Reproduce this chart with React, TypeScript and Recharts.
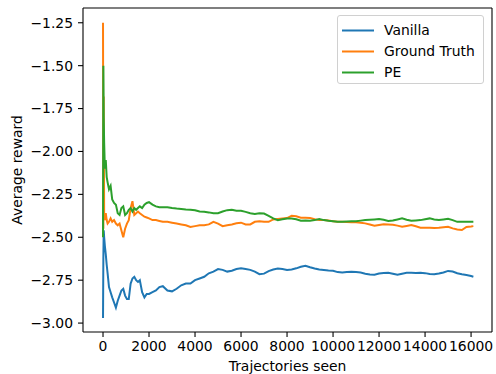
import React from "react";
import { LineChart, Line, XAxis, YAxis, Legend, ReferenceLine } from "recharts";

const trajectoriesSeen = [
  0, 15, 30, 50, 80, 120, 160, 200,
  260, 330, 400, 480, 560, 640, 720, 800,
  880, 960, 1040, 1120, 1200, 1280, 1360, 1440,
  1520, 1600, 1700, 1800, 1900, 2000,
  2150, 2300, 2450, 2600,
  2800, 3000, 3200, 3400, 3600, 3800, 4000, 4200, 4400, 4600,
  4800, 5000, 5200, 5400, 5600, 5800, 6000,
  6200, 6400, 6600, 6800, 7000, 7200, 7400, 7600, 7800, 8000,
  8200, 8400, 8600, 8800, 9000, 9200, 9400, 9600, 9800, 10000,
  10200, 10400, 10600, 10800, 11000, 11200, 11400, 11600, 11800, 12000,
  12200, 12400, 12600, 12800, 13000, 13200, 13400, 13600, 13800, 14000,
  14200, 14400, 14600, 14800, 15000, 15200, 15400, 15600, 15800, 16000, 16100,
];

const vanilla = [
  -2.97, -2.62, -2.46, -2.5, -2.55, -2.6, -2.66, -2.71,
  -2.79, -2.82, -2.85, -2.88, -2.91, -2.87, -2.84, -2.81,
  -2.8, -2.84, -2.86, -2.86, -2.77, -2.74, -2.73, -2.75,
  -2.76, -2.75, -2.82, -2.85, -2.83, -2.83,
  -2.82, -2.81, -2.79, -2.785,
  -2.81, -2.815, -2.8, -2.78, -2.77, -2.77, -2.75, -2.74, -2.73, -2.71,
  -2.7, -2.685, -2.69, -2.7, -2.695, -2.685, -2.681,
  -2.685, -2.69, -2.7, -2.715, -2.712, -2.697, -2.688, -2.682, -2.685, -2.69,
  -2.688, -2.681, -2.672, -2.666, -2.675, -2.682, -2.688, -2.691, -2.694, -2.695,
  -2.703, -2.705, -2.703, -2.701, -2.703, -2.705, -2.712, -2.717, -2.718, -2.711,
  -2.708, -2.707, -2.712, -2.718, -2.712, -2.707, -2.707, -2.708, -2.707, -2.709,
  -2.714, -2.716, -2.711, -2.705, -2.696, -2.7, -2.71, -2.716, -2.72, -2.726, -2.73,
];

const groundTruth = [
  -1.25, -2.45, -1.68, -2.38, -2.4, -2.36, -2.4, -2.42,
  -2.41, -2.39, -2.41, -2.4, -2.42, -2.43, -2.42, -2.46,
  -2.5, -2.45, -2.42, -2.4, -2.33, -2.29, -2.37, -2.36,
  -2.35, -2.36, -2.37, -2.38, -2.385, -2.39,
  -2.4, -2.4, -2.405, -2.41,
  -2.41, -2.415, -2.42, -2.425, -2.43, -2.44, -2.435, -2.43, -2.43, -2.425,
  -2.41, -2.42, -2.435, -2.43, -2.425, -2.418, -2.415,
  -2.425, -2.425, -2.41, -2.406, -2.41, -2.41, -2.396, -2.393, -2.39, -2.388,
  -2.375, -2.378, -2.386, -2.386, -2.387, -2.395, -2.4, -2.4, -2.402, -2.406,
  -2.41, -2.41, -2.411, -2.412, -2.413, -2.416, -2.419, -2.426, -2.433, -2.428,
  -2.424, -2.425, -2.427, -2.432, -2.439, -2.434, -2.429, -2.436, -2.444, -2.445,
  -2.445, -2.446, -2.445, -2.442, -2.439, -2.448, -2.455, -2.458, -2.44, -2.437, -2.435,
];

const pe = [
  -2.5, -1.5, -1.8, -1.95, -2.1, -2.05, -2.15, -2.18,
  -2.22, -2.2, -2.28, -2.3, -2.31, -2.36, -2.37, -2.33,
  -2.32, -2.37, -2.36, -2.34, -2.33, -2.35, -2.33, -2.34,
  -2.33, -2.32, -2.33, -2.31, -2.3, -2.295,
  -2.31, -2.32, -2.325, -2.325,
  -2.325, -2.33, -2.333, -2.335, -2.338, -2.34, -2.343, -2.35, -2.351, -2.355,
  -2.36, -2.36, -2.35, -2.342, -2.34, -2.345, -2.346,
  -2.352, -2.36, -2.364, -2.36, -2.362, -2.375, -2.39, -2.4, -2.395, -2.39,
  -2.39, -2.395, -2.404, -2.402, -2.404, -2.4, -2.394, -2.4, -2.404, -2.407,
  -2.41, -2.41, -2.408, -2.406, -2.406, -2.403, -2.4, -2.398, -2.396, -2.394,
  -2.398, -2.405, -2.402, -2.396, -2.39, -2.398, -2.404, -2.402, -2.4, -2.395,
  -2.39, -2.396, -2.4, -2.396, -2.392, -2.4, -2.41, -2.41, -2.41, -2.41, -2.41,
];

const seriesNames = ["Vanilla", "Ground Truth", "PE"];
const xTicks = [0, 2000, 4000, 6000, 8000, 10000, 12000, 14000, 16000];
const yTicks = [-3.0, -2.75, -2.5, -2.25, -2.0, -1.75, -1.5, -1.25];

const X_MIN = -870;
const X_MAX = 16910;
const Y_MIN = -3.052;
const Y_MAX = -1.164;

const rows = trajectoriesSeen.map((x, i) => ({
  x,
  vanilla: vanilla[i],
  groundTruth: groundTruth[i],
  pe: pe[i],
}));

const font = "'DejaVu Sans', sans-serif";
const tickStyle = { fontSize: 13.9, fill: "#000", fontFamily: font };
const fmtY = (v: number) => v.toFixed(2).replace("-", "\u2212");

// matplotlib-style legend box, keeps plotting order
const LegendBox = (props: any) => {
  const items = [...(props.payload || [])].sort(
    (a: any, b: any) => seriesNames.indexOf(a.value) - seriesNames.indexOf(b.value)
  );
  return (
    <div
      style={{
        border: "1px solid #d0d0d0",
        borderRadius: 3,
        background: "rgba(255,255,255,0.8)",
        padding: "4px 0 3px 0",
        fontFamily: font,
        fontSize: 13.9,
        color: "#000",
        boxSizing: "border-box",
        width: 147,
        height: 69,
      }}
    >
      {items.map((it: any) => (
        <div
          key={it.value}
          style={{ display: "flex", alignItems: "center", height: 21, lineHeight: "21px" }}
        >
          <svg width={46} height={21} style={{ flex: "none" }}>
            <line x1={4} x2={36} y1={10.5} y2={10.5} stroke={it.color} strokeWidth={2} />
          </svg>
          <span>{it.value}</span>
        </div>
      ))}
    </div>
  );
};

export default function App() {
  return (
    <div style={{ position: "absolute", left: 0, top: 0, background: "#fff" }}>
      <LineChart
        width={496}
        height={374}
        data={rows}
        margin={{ top: 8, right: 4, bottom: 0, left: 0 }}
      >
        <XAxis
          dataKey="x"
          type="number"
          domain={[X_MIN, X_MAX]}
          ticks={xTicks}
          interval={0}
          height={42}
          tickSize={5}
          tickMargin={4}
          tick={tickStyle}
          axisLine={{ stroke: "#000", strokeWidth: 1.1 }}
          tickLine={{ stroke: "#000", strokeWidth: 1.1 }}
          label={{
            value: "Trajectories seen",
            position: "insideBottom",
            offset: 3,
            style: { fontSize: 13.9, fill: "#000", fontFamily: font },
          }}
        />
        <YAxis
          type="number"
          domain={[Y_MIN, Y_MAX]}
          ticks={yTicks}
          interval={0}
          width={83}
          tickSize={5}
          tickMargin={5}
          tickFormatter={fmtY}
          tick={tickStyle}
          axisLine={{ stroke: "#000", strokeWidth: 1.1 }}
          tickLine={{ stroke: "#000", strokeWidth: 1.1 }}
          label={{
            value: "Average reward",
            angle: -90,
            position: "insideLeft",
            offset: 17,
            style: { fontSize: 13.9, fill: "#000", fontFamily: font, textAnchor: "middle" },
          }}
        />
        {/* top and right spines */}
        <ReferenceLine y={Y_MAX} stroke="#000" strokeWidth={1.1} ifOverflow="visible" />
        <ReferenceLine x={X_MAX} stroke="#000" strokeWidth={1.1} ifOverflow="visible" />
        <Legend
          layout="vertical"
          align="center"
          verticalAlign="middle"
          content={<LegendBox />}
          wrapperStyle={{ left: 337, top: 15, right: "auto", bottom: "auto", width: 147 }}
        />
        <Line
          type="linear"
          dataKey="vanilla"
          name="Vanilla"
          stroke="#1f77b4"
          strokeWidth={2}
          dot={false}
          isAnimationActive={false}
        />
        <Line
          type="linear"
          dataKey="groundTruth"
          name="Ground Truth"
          stroke="#ff7f0e"
          strokeWidth={2}
          dot={false}
          isAnimationActive={false}
        />
        <Line
          type="linear"
          dataKey="pe"
          name="PE"
          stroke="#2ca02c"
          strokeWidth={2}
          dot={false}
          isAnimationActive={false}
        />
      </LineChart>
    </div>
  );
}
